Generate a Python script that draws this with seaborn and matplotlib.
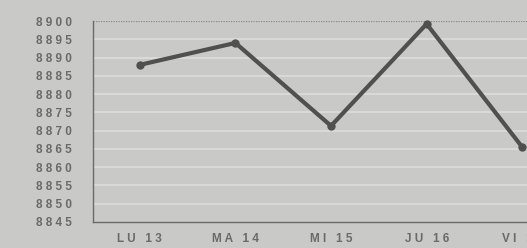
import pandas as pd
import matplotlib
matplotlib.use("Agg")
import matplotlib.pyplot as plt
import seaborn as sns

days = ["LU 13", "MA 14", "MI 15", "JU 16", "VI 17"]
values = [8888.0, 8894.0, 8871.3, 8899.2, 8865.5]
y_ticks = list(range(8845, 8901, 5))

df = pd.DataFrame({"pos": range(len(days)), "day": days, "value": values})

sns.set_style("white")
plt.rcParams["font.family"] = ["Liberation Sans", "DejaVu Sans"]

bg = "#c9c9c7"
fig = plt.figure(figsize=(5.27, 2.48), dpi=100, facecolor=bg)
ax = fig.add_axes([93 / 527, 1 - 222 / 248, 434 / 527, 201 / 248])
ax.set_facecolor(bg)

# faint white grid lines
for v in y_ticks[1:-1]:
    ax.axhline(v, color="#dddddb", lw=1.2, zorder=0)
ax.axhline(8900, color="#8a8a88", lw=0.9, ls=(0, (1, 1)), zorder=0)

sns.lineplot(data=df, x="pos", y="value", ax=ax, color="#505050",
             lw=3, marker="o", markersize=6, markeredgewidth=0, zorder=3,
             clip_on=False)

ax.set_xlim(-0.49, 4.05)
ax.set_ylim(8845, 8900)
ax.set_yticks(y_ticks)
ax.set_yticklabels([" ".join(str(t)) for t in y_ticks], fontsize=8.5,
                   color="#6a6a6a", fontweight="bold")
ax.set_xticks(range(len(days)))
ax.set_xticklabels([" ".join(d) for d in days], fontsize=8.5,
                   color="#6a6a6a", fontweight="bold")
ax.set_xticks([0.5, 1.5, 2.5, 3.5], minor=True)
ax.tick_params(axis="x", which="major", length=0, pad=8)
ax.tick_params(axis="x", which="minor", length=4, direction="inout",
               color="#707070")
ax.tick_params(axis="y", length=4, color="#707070", pad=11)
ax.set_xlabel("")
ax.set_ylabel("")

for s in ["top", "right"]:
    ax.spines[s].set_visible(False)
for s in ["left", "bottom"]:
    ax.spines[s].set_color("#6a6a6a")
    ax.spines[s].set_linewidth(1.0)

fig.savefig("out.png", dpi=100, facecolor=bg)
